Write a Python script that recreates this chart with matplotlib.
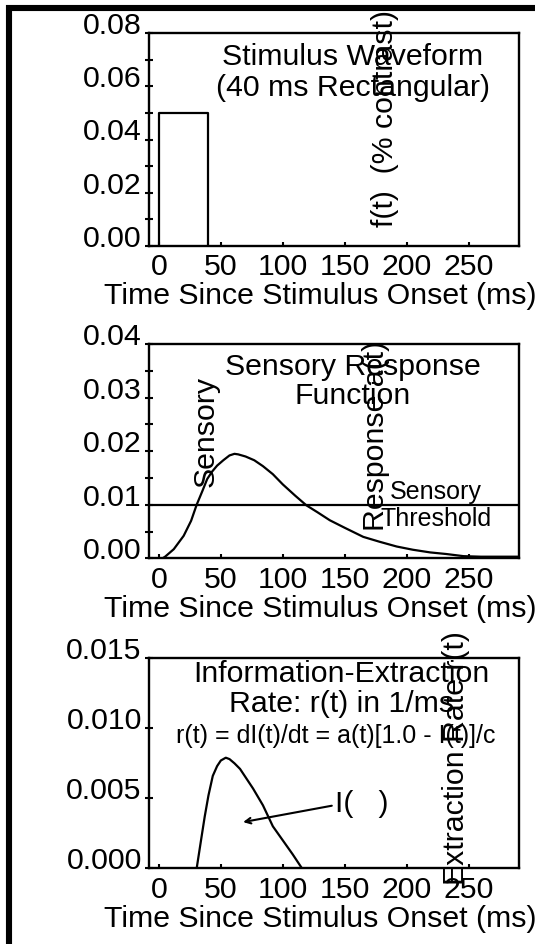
import matplotlib
matplotlib.use('Agg')
import matplotlib.pyplot as plt
from matplotlib.lines import Line2D

plt.rcParams['font.family'] = ['Liberation Sans', 'DejaVu Sans']

# ---- data ----
# stimulus waveform: 40 ms rectangular pulse
stim_t = [0, 0, 40, 40]
stim_f = [0.0, 0.05, 0.05, 0.0]

# sensory response a(t)
resp_t = [3, 5, 12, 20, 26, 30.5, 35, 39, 43, 47, 52, 57, 61, 64, 70, 77, 84,
          92, 100, 110, 119, 128, 138, 150, 165, 178, 192, 205, 219, 232, 246,
          260, 275, 290]
resp_a = [0.0, 0.0003, 0.0017, 0.0042, 0.0070, 0.0100, 0.0125, 0.0148, 0.0162,
          0.0173, 0.0183, 0.0192, 0.0195, 0.0194, 0.0190, 0.0183, 0.0172,
          0.0157, 0.0138, 0.0117, 0.0099, 0.0086, 0.0071, 0.0057, 0.0040,
          0.0031, 0.0022, 0.0016, 0.0011, 0.0008, 0.0004, 0.0003, 0.0003, 0.0003]
threshold = 0.01

# information-extraction rate r(t)
rate_t = [30.5, 34, 37, 40, 43.5, 47, 50, 54, 57, 61, 65.5, 70, 76, 84, 92,
          100, 108, 115.5]
rate_r = [0.0, 0.0020, 0.0037, 0.0052, 0.0066, 0.0073, 0.0077, 0.0079, 0.0078,
          0.0075, 0.0071, 0.0065, 0.0057, 0.0045, 0.0030, 0.0020, 0.0010, 0.0]

xticks = [0, 50, 100, 150, 200, 250]
xlabel = 'Time Since Stimulus Onset (ms)'

W, H = 539, 945
fig = plt.figure(figsize=(W / 100, H / 100), dpi=100)


def fx(x):
    return x / W


def fy(y):
    return 1 - y / H


FS = 21.8
SMALL = 18
LW = 1.6

# outer frame (left + top only)
fig.add_artist(Line2D([fx(9), fx(9), fx(535)], [fy(960), fy(9), fy(9)],
                      color='black', lw=4.4, solid_joinstyle='miter',
                      solid_capstyle='butt'))

left, right = 149, 519.3
panels = [(34.3, 246.7), (345.0, 559.3), (659.3, 869.3)]
axes = []
for top, bot in panels:
    ax = fig.add_axes([fx(left), fy(bot), (right - left) / W, (bot - top) / H])
    ax.set_xlim(-8, 291)
    for s in ax.spines.values():
        s.set_linewidth(1.7)
    ax.set_xticks(xticks)
    ax.tick_params(axis='x', direction='in', length=3, width=1.5, pad=4.5,
                   labelsize=FS)
    ax.tick_params(axis='y', which='both', direction='inout', length=6,
                   width=1.5, pad=2.2, labelsize=FS)
    fig.text(fx(320), fy(bot + 57.6), xlabel, ha='center', va='baseline',
             fontsize=FS)
    axes.append(ax)

ax1, ax2, ax3 = axes

# panel 1
ax1.plot(stim_t, stim_f, color='black', lw=LW)
ax1.set_ylim(0, 0.08)
ax1.set_yticks([0.0, 0.02, 0.04, 0.06, 0.08],
               ['0.00', '0.02', '0.04', '0.06', '0.08'])
ax1.set_yticks([0.01, 0.03, 0.05, 0.07], minor=True)
fig.text(fx(353), fy(65.3), 'Stimulus Waveform', ha='center', va='baseline',
         fontsize=FS)
fig.text(fx(353), fy(95.6), '(40 ms Rectangular)', ha='center',
         va='baseline', fontsize=FS)
fig.text(fx(385), fy(118.6), 'f(t)  (% contrast)', rotation=90, ha='center',
         va='center', fontsize=FS)

# panel 2
ax2.plot(resp_t, resp_a, color='black', lw=LW)
ax2.axhline(threshold, color='black', lw=LW)
ax2.set_ylim(0, 0.04)
ax2.set_yticks([0.0, 0.01, 0.02, 0.03, 0.04],
               ['0.00', '0.01', '0.02', '0.03', '0.04'])
ax2.set_yticks([0.005, 0.015, 0.025, 0.035], minor=True)
fig.text(fx(353), fy(375), 'Sensory Response', ha='center', va='baseline',
         fontsize=FS)
fig.text(fx(353), fy(403.5), 'Function', ha='center', va='baseline',
         fontsize=FS)
fig.text(fx(205.5), fy(431.7), 'Sensory', rotation=90, ha='center',
         va='center', fontsize=FS)
fig.text(fx(375.5), fy(436), 'Response a(t)', rotation=90, ha='center',
         va='center', fontsize=FS)
fig.text(fx(436), fy(499.3), 'Sensory', ha='center', va='baseline',
         fontsize=SMALL)
fig.text(fx(436), fy(526), 'Threshold', ha='center', va='baseline',
         fontsize=SMALL)

# panel 3
ax3.plot(rate_t, rate_r, color='black', lw=LW)
ax3.set_ylim(0, 0.015)
ax3.set_yticks([0.0, 0.005, 0.010, 0.015],
               ['0.000', '0.005', '0.010', '0.015'])
fig.text(fx(341), fy(681.7), 'Information-Extraction', ha='center',
         va='baseline', fontsize=FS)
fig.text(fx(341.5), fy(711.7), 'Rate: r(t) in 1/ms', ha='center',
         va='baseline', fontsize=FS)
fig.text(fx(336), fy(743), 'r(t) = dI(t)/dt = a(t)[1.0 - I(t)]/c',
         ha='center', va='baseline', fontsize=SMALL)
fig.text(fx(455.8), fy(758), 'Extraction Rate r(t)', rotation=90,
         ha='center', va='center', fontsize=FS)
fig.text(fx(335), fy(812), 'I(   )', ha='left', va='baseline', fontsize=FS)
ax3.annotate('', xy=(68, 0.0033), xytext=(139.6, 0.00447),
             arrowprops=dict(arrowstyle='->', lw=1.5, color='black',
                             shrinkA=0, shrinkB=0))

for ax in axes:
    for lab in ax.get_yticklabels():
        lab.set_verticalalignment('baseline')

fig.savefig('out.png', dpi=100)
